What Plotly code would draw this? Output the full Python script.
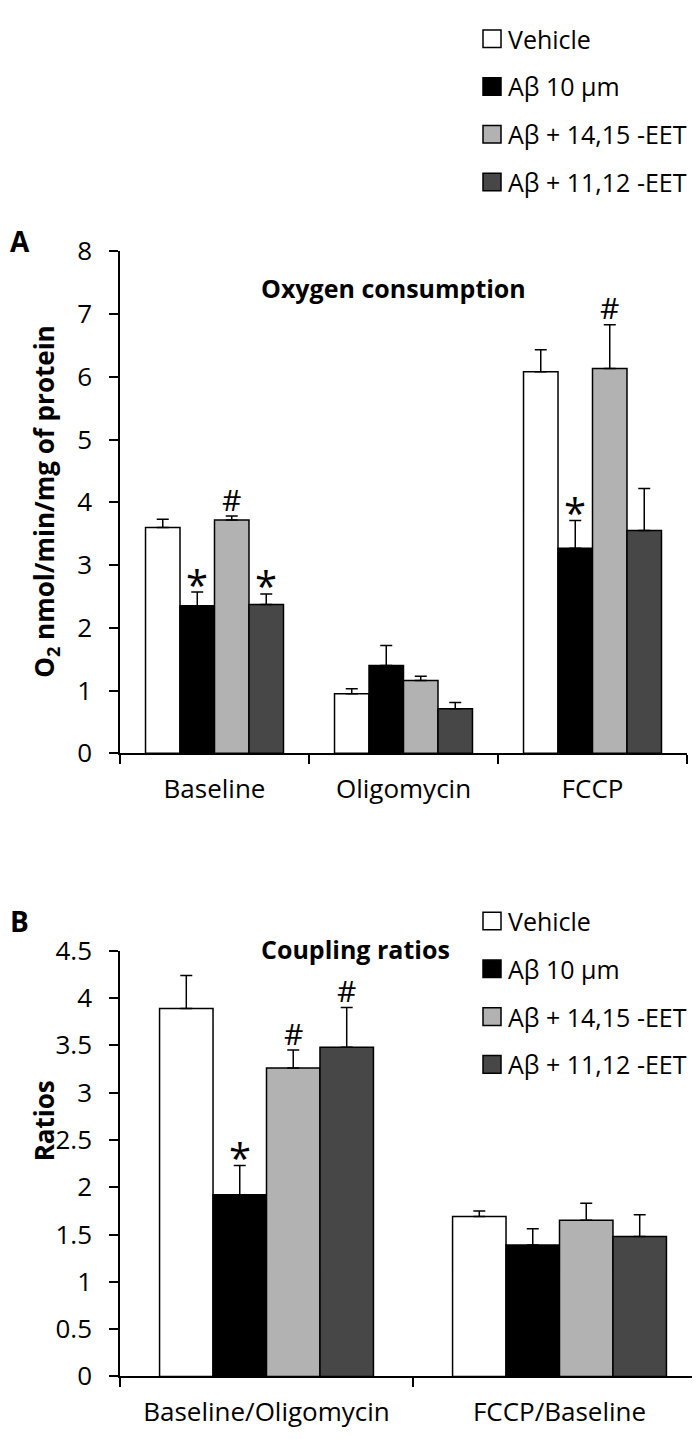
import plotly.graph_objects as go

# ---------------- data ----------------
series_names = ["Vehicle", "Aβ 10 µm", "Aβ + 14,15 -EET", "Aβ + 11,12 -EET"]
series_colors = ["#ffffff", "#000000", "#b2b2b2", "#474747"]

cats_a = ["Baseline", "Oligomycin", "FCCP"]
vals_a = [
    [3.60, 0.95, 6.08],   # Vehicle
    [2.35, 1.40, 3.27],   # Abeta 10 um
    [3.72, 1.16, 6.13],   # Abeta + 14,15-EET
    [2.37, 0.71, 3.55],   # Abeta + 11,12-EET
]
errs_a = [
    [0.13, 0.08, 0.35],
    [0.22, 0.32, 0.44],
    [0.06, 0.07, 0.70],
    [0.17, 0.10, 0.67],
]
# significance marks: (series index, category index, symbol)
marks_a = [(1, 0, "*"), (2, 0, "#"), (3, 0, "*"), (1, 2, "*"), (2, 2, "#")]

cats_b = ["Baseline/Oligomycin", "FCCP/Baseline"]
vals_b = [
    [3.89, 1.69],
    [1.92, 1.39],
    [3.26, 1.65],
    [3.48, 1.48],
]
errs_b = [
    [0.35, 0.06],
    [0.31, 0.17],
    [0.19, 0.18],
    [0.42, 0.23],
]
marks_b = [(1, 0, "*"), (2, 0, "#"), (3, 0, "#")]

title_a = "Oxygen consumption"
title_b = "Coupling ratios"
ytitle_a = "O<sub>2</sub> nmol/min/mg of protein"
ytitle_b = "Ratios"

# ---------------- layout helpers ----------------
W, H = 700, 1439
FONT = "Open Sans"
BARGAP = 0.27

def py(pix):
    return 1 - pix / H

fig = go.Figure()

for i, name in enumerate(series_names):
    fig.add_trace(go.Bar(
        x=cats_a, y=vals_a[i], name=name, showlegend=False,
        marker=dict(color=series_colors[i], line=dict(color="black", width=1.5)),
        error_y=dict(type="data", array=errs_a[i], arrayminus=[0] * len(cats_a),
                     symmetric=False, color="black", thickness=1.5, width=6),
        xaxis="x", yaxis="y"))
    fig.add_trace(go.Bar(
        x=cats_b, y=vals_b[i], name=name, showlegend=False,
        marker=dict(color=series_colors[i], line=dict(color="black", width=1.5)),
        error_y=dict(type="data", array=errs_b[i], arrayminus=[0] * len(cats_b),
                     symmetric=False, color="black", thickness=1.5, width=6),
        xaxis="x2", yaxis="y2"))

axis_common = dict(showline=True, linecolor="black", linewidth=1.5, ticks="outside",
                   ticklen=9, tickwidth=1.5, tickcolor="black", showgrid=False,
                   zeroline=False)

fig.update_layout(
    width=W, height=H, margin=dict(l=0, r=0, t=0, b=0),
    paper_bgcolor="white", plot_bgcolor="white",
    barmode="group", bargap=BARGAP, bargroupgap=0,
    font=dict(family=FONT, color="black"),
    xaxis=dict(domain=[112 / W, 679 / W], anchor="y", tickson="boundaries",
               tickfont=dict(size=26, family=FONT), ticklabelstandoff=12, **axis_common),
    yaxis=dict(domain=[py(745), py(230)], anchor="x", range=[0, 8], dtick=1,
               tickfont=dict(size=26, family=FONT), ticklabelstandoff=12, **axis_common),
    xaxis2=dict(domain=[112 / W, 698 / W], anchor="y2", tickson="boundaries",
                tickfont=dict(size=26, family=FONT), ticklabelstandoff=12, **axis_common),
    yaxis2=dict(domain=[py(1384), py(947.5)], anchor="x2", range=[0, 4.5], dtick=0.5,
                tickfont=dict(size=26, family=FONT), ticklabelstandoff=12, **axis_common),
)

# bar offsets within a category (grouped)
nser = len(series_names)
bw = (1 - BARGAP) / nser
offsets = [-(1 - BARGAP) / 2 + bw * (k + 0.5) for k in range(nser)]

ann = []
def add_marks(marks, vals, errs, xref, yref):
    for s, c, sym in marks:
        ann.append(dict(x=c + offsets[s], y=vals[s][c] + errs[s][c], xref=xref, yref=yref,
                        text=sym, showarrow=False, yanchor="middle",
                        yshift=(8 if sym == "*" else 17),
                        font=dict(size=40 if sym == "*" else 30, family=FONT, color="black")))
add_marks(marks_a, vals_a, errs_a, "x", "y")
add_marks(marks_b, vals_b, errs_b, "x2", "y2")

# titles
ann.append(dict(x=386 / W, y=py(248), xref="paper", yref="paper", text="<b>%s</b>" % title_a,
                showarrow=False, font=dict(size=25, family=FONT)))
ann.append(dict(x=347 / W, y=py(946), xref="paper", yref="paper", text="<b>%s</b>" % title_b,
                showarrow=False, font=dict(size=25, family=FONT)))
# y titles
ann.append(dict(x=16 / W, y=py(487), xref="paper", yref="paper", text="<b>%s</b>" % ytitle_a,
                showarrow=False, textangle=-90, font=dict(size=26, family=FONT)))
ann.append(dict(x=16 / W, y=py(1166), xref="paper", yref="paper", text="<b>%s</b>" % ytitle_b,
                showarrow=False, textangle=-90, font=dict(size=26, family=FONT)))
# panel letters
ann.append(dict(x=0, y=py(198), xref="paper", yref="paper", text="<b>A</b>", xanchor="left",
                showarrow=False, font=dict(size=28, family=FONT)))
ann.append(dict(x=0, y=py(917), xref="paper", yref="paper", text="<b>B</b>", xanchor="left",
                showarrow=False, font=dict(size=28, family=FONT)))

# manual legends
shapes = []
for top_row in (12, 917):
    for i, name in enumerate(series_names):
        yc = top_row + 49 * i
        shapes.append(dict(type="rect", xref="paper", yref="paper",
                           x0=475 / W, x1=493 / W, y0=py(yc + 9), y1=py(yc - 9),
                           fillcolor=series_colors[i], line=dict(color="black", width=1.5)))
        ann.append(dict(x=498 / W, y=py(yc), xref="paper", yref="paper", text=name,
                        xanchor="left", yanchor="middle", showarrow=False,
                        font=dict(size=25, family=FONT)))

fig.update_layout(annotations=ann, shapes=shapes)
fig.write_html("out.html")
